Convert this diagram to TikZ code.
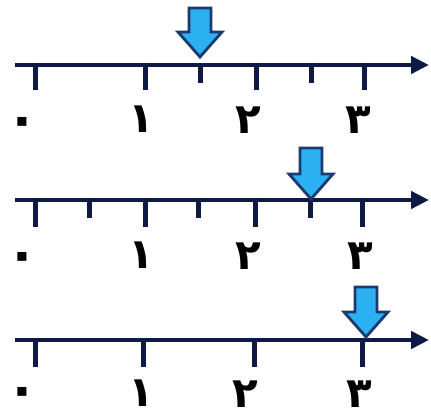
\documentclass[tikz,border=0pt]{standalone}
\usepackage{fontspec}
\usetikzlibrary{arrows.meta}
\newfontfamily\fa[Script=Arabic]{DejaVu Sans}
\definecolor{navy}{HTML}{0E1A45}
\definecolor{arrowfill}{HTML}{2BB0F2}
\definecolor{arrowedge}{HTML}{1C3A70}
\tikzset{
  numline/.style={line width=4.5pt, navy, -{Triangle[length=18pt,width=17pt]}},
  major/.style={line width=5pt, navy},
  minor/.style={line width=5pt, navy},
  digit/.style={font=\fa\bfseries\fontsize{42}{42}\selectfont, text=black, inner sep=0pt},
  zerodigit/.style={font=\fa\bfseries\fontsize{52}{52}\selectfont, text=black, inner sep=0pt},
  pointer/.style={fill=arrowfill, draw=arrowedge, line width=2.8pt, line join=miter},
}
\newcommand{\pointerat}[3]{% cx, top, tip
  \draw[pointer] (#1-11,#2) -- (#1+11,#2) -- (#1+11,#3-25) -- (#1+22,#3-25) -- (#1,#3) -- (#1-22,#3-25) -- (#1-11,#3-25) -- cycle;}
\begin{document}
\begin{tikzpicture}[x=1pt,y=-1pt]
\useasboundingbox (0,0) rectangle (431,419);
% ---------- line 1 ----------
\coordinate (a1) at (15,65);
\coordinate (b1) at (429,65);
\draw[numline] (a1) -- (b1);
\foreach \x in {35,145,256,364} \draw[major] (\x,63) -- (\x,90);
\foreach \x in {200,311} \draw[minor] (\x,63) -- (\x,83);
\pointerat{200}{8}{57}
\node[zerodigit] (z1) at (22,127) {۰};
\node[digit] (o1) at (141,119) {۱};
\node[digit] (t1) at (248,120) {۲};
\node[digit] (h1) at (358,120) {۳};
% ---------- line 2 ----------
\coordinate (a2) at (15,200);
\coordinate (b2) at (429,200);
\draw[numline] (a2) -- (b2);
\foreach \x in {35,145,255,362} \draw[major] (\x,198) -- (\x,227);
\foreach \x in {89,198,310} \draw[minor] (\x,198) -- (\x,218);
\pointerat{311}{148}{199}
\node[zerodigit] (z2) at (22,262) {۰};
\node[digit] (o2) at (141,255) {۱};
\node[digit] (t2) at (248,256) {۲};
\node[digit] (h2) at (360,256) {۳};
% ---------- line 3 ----------
\coordinate (a3) at (15,340);
\coordinate (b3) at (429,340);
\draw[numline] (a3) -- (b3);
\foreach \x in {35,143,254,362} \draw[major] (\x,338) -- (\x,367);
\pointerat{366}{287}{337}
\node[zerodigit] (z3) at (22,397) {۰};
\node[digit] (o3) at (141,393) {۱};
\node[digit] (t3) at (245,394) {۲};
\node[digit] (h3) at (359,394) {۳};
\end{tikzpicture}
\end{document}
